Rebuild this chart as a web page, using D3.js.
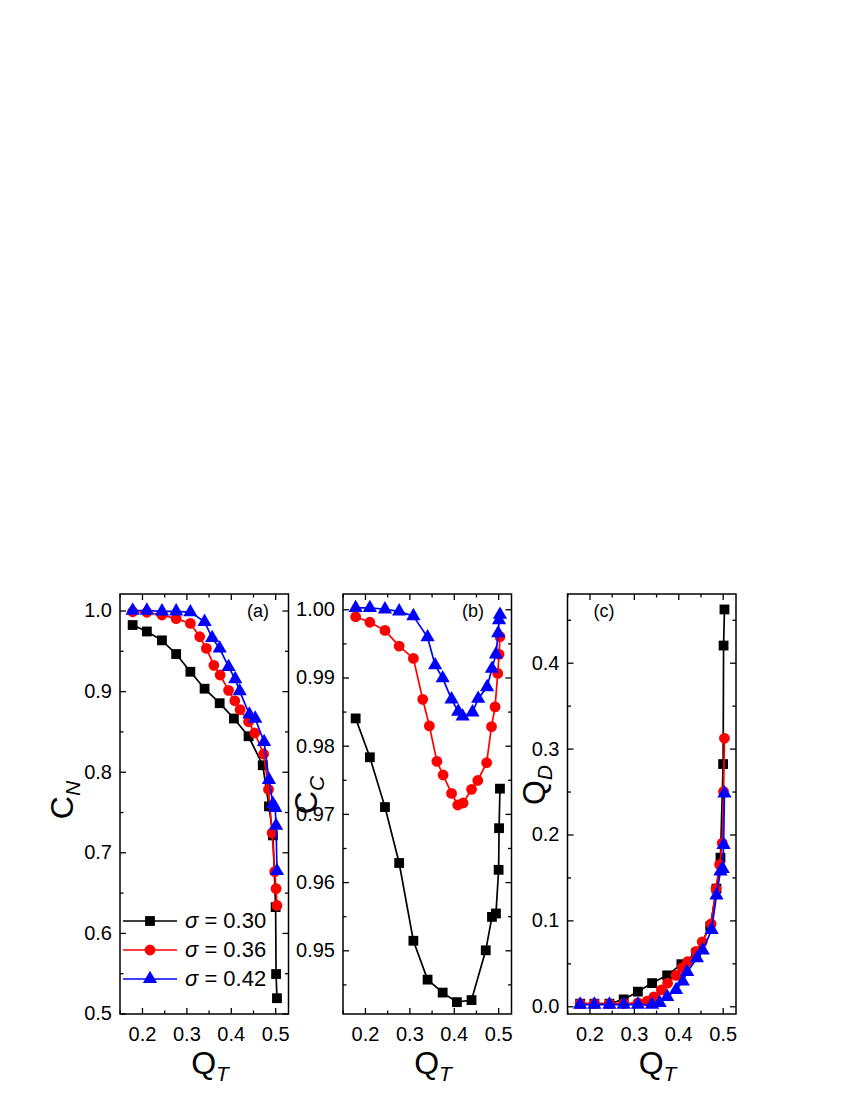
<!DOCTYPE html>
<html>
<head>
<meta charset="utf-8">
<script src="https://cdn.jsdelivr.net/npm/d3@7"></script>
<style>
  body { margin: 0; background: #fff; }
  text { font-family: Arial, "Liberation Sans", sans-serif; }
</style>
</head>
<body>
<svg width="850" height="1100"></svg>
<script>
// Q_T values for each sigma
const qT30 = [0.179, 0.211, 0.245, 0.277, 0.309, 0.341, 0.375, 0.407, 0.440, 0.472, 0.486, 0.495, 0.501, 0.502, 0.504];
const qT36 = [0.179, 0.211, 0.245, 0.277, 0.309, 0.330, 0.345, 0.362, 0.376, 0.395, 0.409, 0.421, 0.440, 0.454, 0.474, 0.485, 0.493, 0.499, 0.502, 0.504];
const qT42 = [0.179, 0.211, 0.245, 0.277, 0.309, 0.341, 0.358, 0.375, 0.395, 0.410, 0.420, 0.442, 0.455, 0.475, 0.486, 0.495, 0.500, 0.502, 0.504];

// (a) C_N
const cN30 = [0.982, 0.974, 0.963, 0.946, 0.924, 0.903, 0.885, 0.866, 0.844, 0.808, 0.757, 0.721, 0.632, 0.549, 0.519];
const cN36 = [0.9985, 0.9978, 0.9944, 0.990, 0.984, 0.9675, 0.953, 0.932, 0.920, 0.901, 0.888, 0.877, 0.862, 0.848, 0.822, 0.778, 0.724, 0.676, 0.655, 0.634];
const cN42 = [1.000, 1.000, 0.999, 0.999, 0.998, 0.986, 0.966, 0.953, 0.930, 0.915, 0.900, 0.871, 0.866, 0.837, 0.790, 0.760, 0.755, 0.733, 0.677];

// (b) C_C
const cC30 = [0.9840, 0.9783, 0.9710, 0.9628, 0.9514, 0.9457, 0.9438, 0.9424, 0.9427, 0.9500, 0.9549, 0.9554, 0.9618, 0.9679, 0.9737];
const cC36 = [0.9989, 0.9981, 0.9969, 0.9946, 0.9928, 0.9868, 0.9829, 0.9777, 0.9757, 0.9730, 0.9713, 0.9716, 0.9736, 0.9749, 0.9775, 0.9828, 0.9857, 0.9906, 0.9934, 0.9960];
const cC42 = [1.0002, 1.0002, 1.0000, 0.9997, 0.9990, 0.9959, 0.9918, 0.9899, 0.9868, 0.9850, 0.9843, 0.9849, 0.9869, 0.9886, 0.9913, 0.9934, 0.9965, 0.9984, 0.9992];

// (c) Q_D
const qD30 = [0.003, 0.003, 0.003, 0.008, 0.017, 0.027, 0.036, 0.049, 0.062, 0.093, 0.137, 0.173, 0.282, 0.420, 0.462];
const qD36 = [0.003, 0.003, 0.003, 0.003, 0.004, 0.006, 0.011, 0.019, 0.027, 0.036, 0.045, 0.052, 0.064, 0.075, 0.096, 0.137, 0.165, 0.190, 0.250, 0.312];
const qD42 = [0.002, 0.002, 0.002, 0.002, 0.002, 0.002, 0.004, 0.011, 0.019, 0.029, 0.040, 0.056, 0.065, 0.089, 0.129, 0.157, 0.160, 0.188, 0.248];

const sigmas = ['0.30', '0.36', '0.42'];
const xTicks = [0.2, 0.3, 0.4, 0.5];

const svg = d3.select('svg');
const colors = ['#000000', '#ff0000', '#0000ff'];
const shapes = [d3.symbolSquare, d3.symbolCircle, d3.symbolTriangle];
const sizes = [96, 92, 88];

const yTop = 594, yBottom = 1014, pw = 168.5;

const panels = [
  { left: 120, yDom: [0.4994, 1.0205], yTicks: [0.5, 0.6, 0.7, 0.8, 0.9, 1.0], yMinor: [0.55, 0.65, 0.75, 0.85, 0.95],
    fmt: d3.format('.1f'), series: [cN30, cN36, cN42], tag: '(a)', tagX: 258, main: 'C', sub: 'N', titleX: 73, titleY: 800 },
  { left: 343, yDom: [0.94066, 1.00224], yTicks: [0.95, 0.96, 0.97, 0.98, 0.99, 1.00], yMinor: [0.945, 0.955, 0.965, 0.975, 0.985, 0.995],
    fmt: d3.format('.2f'), series: [cC30, cC36, cC42], tag: '(b)', tagX: 473, main: 'C', sub: 'C', titleX: 317, titleY: 795 },
  { left: 567.5, yDom: [-0.009, 0.48], yTicks: [0.0, 0.1, 0.2, 0.3, 0.4], yMinor: [0.05, 0.15, 0.25, 0.35, 0.45],
    fmt: d3.format('.1f'), series: [qD30, qD36, qD42], tag: '(c)', tagX: 604, main: 'Q', sub: 'D', titleX: 545, titleY: 785 }
];
const xs = [qT30, qT36, qT42];

panels.forEach(p => {
  const xScale = d3.scaleLinear().domain([0.1505, 0.53]).range([p.left, p.left + pw]);
  const yScale = d3.scaleLinear().domain(p.yDom).range([yBottom, yTop]);
  const xMinor = [0.15, 0.25, 0.35, 0.45];

  const g = svg.append('g');

  // ticks on all four sides, pointing inward
  const addAxis = (axis, tr, labels) => {
    const a = g.append('g').attr('transform', tr).call(axis);
    a.select('.domain').remove();
    a.selectAll('line').attr('stroke', '#000').attr('stroke-width', 1.3);
    a.selectAll('text').attr('font-size', 20).attr('fill', '#000');
    if (!labels) a.selectAll('text').remove();
    return a;
  };
  addAxis(d3.axisBottom(xScale).tickValues(xTicks).tickSize(-6).tickPadding(13).tickFormat(d3.format('.1f')), `translate(0,${yBottom})`, true);
  addAxis(d3.axisBottom(xScale).tickValues(xMinor).tickSize(-3.5), `translate(0,${yBottom})`, false);
  addAxis(d3.axisTop(xScale).tickValues(xTicks).tickSize(-6), `translate(0,${yTop})`, false);
  addAxis(d3.axisTop(xScale).tickValues(xMinor).tickSize(-3.5), `translate(0,${yTop})`, false);
  addAxis(d3.axisLeft(yScale).tickValues(p.yTicks).tickSize(-6).tickPadding(8).tickFormat(p.fmt), `translate(${p.left},0)`, true);
  addAxis(d3.axisLeft(yScale).tickValues(p.yMinor).tickSize(-3.5), `translate(${p.left},0)`, false);
  addAxis(d3.axisRight(yScale).tickValues(p.yTicks).tickSize(-6), `translate(${p.left + pw},0)`, false);
  addAxis(d3.axisRight(yScale).tickValues(p.yMinor).tickSize(-3.5), `translate(${p.left + pw},0)`, false);

  g.append('rect')
    .attr('x', p.left).attr('y', yTop)
    .attr('width', pw).attr('height', yBottom - yTop)
    .attr('fill', 'none').attr('stroke', '#000').attr('stroke-width', 1.5);

  // series: black, red, blue (blue on top)
  p.series.forEach((vals, i) => {
    const data = xs[i].map((q, k) => ({ q: q, v: vals[k] }));
    const line = d3.line().x(d => xScale(d.q)).y(d => yScale(d.v));
    g.append('path').datum(data)
      .attr('d', line).attr('fill', 'none')
      .attr('stroke', colors[i]).attr('stroke-width', 1.7);
    g.selectAll(null).data(data).enter().append('path')
      .attr('d', d3.symbol().type(shapes[i]).size(sizes[i]))
      .attr('transform', d => `translate(${xScale(d.q)},${yScale(d.v)})`)
      .attr('fill', colors[i]);
  });

  g.append('text').attr('x', p.tagX).attr('y', 617)
    .attr('text-anchor', 'middle').attr('font-size', 18).text(p.tag);

  // x title
  const xt = g.append('text').attr('x', p.left + 90).attr('y', 1074)
    .attr('text-anchor', 'middle').attr('font-size', 32);
  xt.append('tspan').text('Q');
  xt.append('tspan').attr('font-size', 21).attr('font-style', 'italic').attr('dy', 7).text('T');

  // y title
  const yt = g.append('text')
    .attr('transform', `translate(${p.titleX},${p.titleY}) rotate(-90)`)
    .attr('text-anchor', 'middle').attr('font-size', 32);
  yt.append('tspan').text(p.main);
  yt.append('tspan').attr('font-size', 21).attr('font-style', 'italic').attr('dy', 7).text(p.sub);
});

// legend inside panel (a)
const legY = [921, 950, 979];
const leg = svg.append('g');
sigmas.forEach((s, i) => {
  leg.append('line').attr('x1', 123).attr('x2', 177).attr('y1', legY[i]).attr('y2', legY[i])
    .attr('stroke', colors[i]).attr('stroke-width', 1.7);
  leg.append('path').attr('d', d3.symbol().type(shapes[i]).size(sizes[i]))
    .attr('transform', `translate(150,${legY[i]})`).attr('fill', colors[i]);
  const t = leg.append('text').attr('x', 185).attr('y', legY[i] + 7).attr('font-size', 22);
  t.append('tspan').attr('font-style', 'italic').text('σ');
  t.append('tspan').text(' = ' + s);
});
</script>
</body>
</html>
